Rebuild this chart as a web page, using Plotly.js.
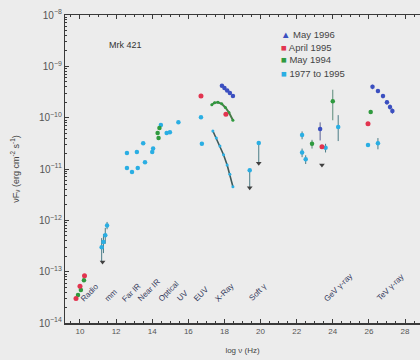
<!DOCTYPE html>
<html>
<head>
<meta charset="utf-8">
<script src="https://cdn.plot.ly/plotly-3.0.1.min.js"></script>
<style>
  html, body { margin: 0; padding: 0; background: #ececec; }
  #chart { width: 420px; height: 360px; }
</style>
</head>
<body>
<div id="chart"></div>
<script>
// Mrk 421 spectral energy distribution: log frequency (Hz) vs nuF_nu (erg cm^-2 s^-1)

// May 1996 campaign
const may96X      = [17.86, 18.0, 18.15, 18.3, 18.47, 23.3, 26.2, 26.5, 26.78, 27.0, 27.17, 27.3];
const may96Y      = [4.17e-10, 3.8e-10, 3.39e-10, 3.02e-10, 2.63e-10, 6.0e-11, 3.98e-10, 3.31e-10, 2.63e-10, 2.0e-10, 1.62e-10, 1.35e-10];
const may96ErrHi  = [0, 0, 0, 0, 0, 2.1e-11, 4e-11, 3e-11, 2.5e-11, 2e-11, 1.8e-11, 1.6e-11];
const may96ErrLo  = [0, 0, 0, 0, 0, 2.4e-11, 4e-11, 3e-11, 2.5e-11, 2e-11, 1.8e-11, 1.6e-11];

// April 1995 campaign
const apr95X = [9.78, 10.0, 10.25, 16.7, 18.08, 23.4, 25.95];
const apr95Y = [3.0e-14, 5.2e-14, 8.3e-14, 2.63e-10, 1.17e-10, 2.7e-11, 7.6e-11];

// May 1994 campaign (radio, optical, X-ray spectrum, GeV, TeV)
const may94X      = [9.89, 10.05, 10.22, 14.3, 14.35, 14.4, 22.85, 24.0, 26.1];
const may94Y      = [3.5e-14, 4.4e-14, 6.8e-14, 5.0e-11, 4.0e-11, 6.3e-11, 3.1e-11, 2.1e-10, 1.29e-10];
const may94ErrHi  = [0, 0, 0, 0, 0, 0, 6e-12, 1.4e-10, 0];
const may94ErrLo  = [0, 0, 0, 0, 0, 0, 6e-12, 1.21e-10, 0];
const may94XrayX  = [17.3, 17.45, 17.64, 17.85, 18.05, 18.25, 18.47];
const may94XrayY  = [1.78e-10, 1.95e-10, 2.0e-10, 1.86e-10, 1.58e-10, 1.26e-10, 8.9e-11];

// Archival measurements 1977 to 1995
const archX     = [11.2, 11.3, 11.4, 11.5, 12.6, 12.6, 12.88, 13.15, 13.2, 13.5, 13.6, 14.0, 14.05, 14.48, 14.8, 14.98, 15.45,
                   16.7, 16.75, 19.4, 19.9, 22.3, 22.3, 22.5, 23.6, 24.3, 25.95, 26.5];
const archY     = [3.0e-13, 3.8e-13, 5.1e-13, 7.9e-13, 2.04e-11, 1.05e-11, 8.7e-12, 2.14e-11, 1.05e-11, 3.16e-11, 1.35e-11, 2.14e-11, 2.5e-11, 7.2e-11, 5.0e-11, 5.2e-11, 8.1e-11,
                   1.02e-10, 3.1e-11, 9.5e-12, 3.2e-11, 4.6e-11, 2.1e-11, 1.55e-11, 2.6e-11, 6.6e-11, 2.95e-11, 3.16e-11];
const archErrHi = [1.5e-13, 1.6e-13, 2.0e-13, 1.4e-13, 0, 0, 0, 0, 0, 0, 0, 0, 0, 0, 0, 0, 0,
                   0, 0, 0, 0, 8e-12, 4e-12, 3e-12, 5e-12, 4.6e-11, 0, 8.4e-12];
const archErrLo = [1.4e-13, 1.5e-13, 1.6e-13, 1.2e-13, 0, 0, 0, 0, 0, 0, 0, 0, 0, 0, 0, 0, 0,
                   0, 0, 5.2e-12, 1.9e-11, 8e-12, 4e-12, 3e-12, 5e-12, 3.1e-11, 0, 7.4e-12];
const archXrayX = [17.36, 17.55, 17.75, 17.95, 18.15, 18.3, 18.47];
const archXrayY = [5.5e-11, 4.0e-11, 2.8e-11, 1.9e-11, 1.2e-11, 7.9e-12, 4.5e-12];

// Upper limits (downward arrows)
const limitX = [11.25, 19.4, 19.9, 23.4];
const limitY = [1.55e-13, 4.3e-12, 1.3e-11, 1.2e-11];

// Band names along the frequency axis
const bandNames = ['Radio', 'mm', 'Far IR', 'Near IR', 'Optical', 'UV', 'EUV', 'X-Ray', 'Soft γ', 'GeV γ-ray', 'TeV γ-ray'];
const bandPos   = [10.55, 11.7, 12.85, 13.8, 14.9, 15.7, 16.75, 18.0, 19.85, 24.3, 27.2];

// Legend entries
const seriesNames  = ['May 1996', 'April 1995', 'May 1994', '1977 to 1995'];
const seriesColors = ['#3b4fc0', '#e2344f', '#2f9a3e', '#2aaee3'];
const seriesGlyphs = ['▲', '■', '■', '■'];

const axisColor = '#3a3a3a';
const tickFont = {family: 'Liberation Sans, Arial, sans-serif', size: 8, color: '#555'};

function errY(hi, lo, color) {
  return {type: 'data', symmetric: false, array: hi, arrayminus: lo, color: color, thickness: 1, width: 0};
}

const traces = [
  {x: may94XrayX, y: may94XrayY, mode: 'lines+markers', name: seriesNames[2],
   line: {color: '#4a7a4a', width: 2}, marker: {color: seriesColors[2], size: 3}},
  {x: archXrayX, y: archXrayY, mode: 'lines+markers', name: seriesNames[3],
   line: {color: '#3f5a5a', width: 1.6}, marker: {color: seriesColors[3], size: 3}},
  {x: archX, y: archY, mode: 'markers', name: seriesNames[3],
   marker: {color: seriesColors[3], size: 4.5},
   error_y: errY(archErrHi, archErrLo, '#4a7c86')},
  {x: may94X, y: may94Y, mode: 'markers', name: seriesNames[2],
   marker: {color: seriesColors[2], size: 4.5},
   error_y: errY(may94ErrHi, may94ErrLo, '#5b8a7a')},
  {x: apr95X, y: apr95Y, mode: 'markers', name: seriesNames[1],
   marker: {color: seriesColors[1], size: 5}},
  {x: may96X, y: may96Y, mode: 'markers', name: seriesNames[0],
   marker: {color: seriesColors[0], size: 4.5},
   error_y: errY(may96ErrHi, may96ErrLo, '#5a6094')},
  {x: limitX, y: limitY, mode: 'markers', name: 'upper limits',
   marker: {color: '#404040', size: 5, symbol: 'triangle-down'}}
];
traces.forEach(t => { t.showlegend = false; t.hoverinfo = 'skip'; });

// Plot area spans x 65..420 px and y 15..323 px
const plotTop = 15, plotBottom = 323, plotLeft = 65, plotRight = 420;
function paperX(px) { return (px - plotLeft) / (plotRight - plotLeft); }
function paperY(px) { return (plotBottom - px) / (plotBottom - plotTop); }

const labelFont = {family: 'Liberation Sans, Arial, sans-serif', size: 8, color: '#343a5c'};
const annotations = [];
bandNames.forEach((name, i) => {
  annotations.push({
    x: bandPos[i], xref: 'x', y: paperY(306), yref: 'paper',
    text: name, showarrow: false, textangle: -45, font: labelFont
  });
});
annotations.push({
  x: paperX(107), xref: 'paper', y: paperY(45), yref: 'paper', xanchor: 'left', yanchor: 'middle',
  text: 'Mrk 421', showarrow: false,
  font: {family: 'Liberation Sans, Arial, sans-serif', size: 9, color: '#333'}
});
seriesNames.forEach((name, i) => {
  annotations.push({
    x: paperX(279), xref: 'paper', y: paperY(34 + i * 13), yref: 'paper',
    xanchor: 'left', yanchor: 'middle', showarrow: false,
    text: '<span style="color:' + seriesColors[i] + '">' + seriesGlyphs[i] + '</span> ' + name,
    font: {family: 'Liberation Sans, Arial, sans-serif', size: 9.5, color: '#444'}
  });
});

const layout = {
  width: 420, height: 360,
  margin: {l: plotLeft, r: 420 - plotRight, t: plotTop, b: 360 - plotBottom},
  paper_bgcolor: '#ececec', plot_bgcolor: '#ececec',
  font: {family: 'Liberation Sans, Arial, sans-serif'},
  xaxis: {
    range: [9.17, 28.83], tick0: 10, dtick: 2,
    ticks: 'inside', ticklen: 4, tickcolor: axisColor, mirror: 'ticks',
    showline: true, linecolor: axisColor, linewidth: 1.5,
    showgrid: false, zeroline: false, tickfont: tickFont,
    minor: {ticks: 'inside', ticklen: 2, dtick: 0.5, tickcolor: axisColor},
    title: {text: 'log ν (Hz)', font: {size: 8, color: '#444'}, standoff: 12}
  },
  yaxis: {
    type: 'log', range: [-14, -8], dtick: 1, exponentformat: 'power',
    ticks: 'inside', ticklen: 4, tickcolor: axisColor,
    showline: true, linecolor: axisColor, linewidth: 1.5,
    showgrid: false, zeroline: false, tickfont: tickFont,
    minor: {ticks: 'inside', ticklen: 2, tickcolor: axisColor},
    title: {text: 'νF<sub>ν</sub> (erg cm<sup>-2</sup> s<sup>-1</sup>)', font: {size: 9, color: '#444'}, standoff: 18}
  },
  annotations: annotations,
  showlegend: false
};

Plotly.newPlot('chart', traces, layout, {staticPlot: true, displayModeBar: false});
</script>
</body>
</html>
